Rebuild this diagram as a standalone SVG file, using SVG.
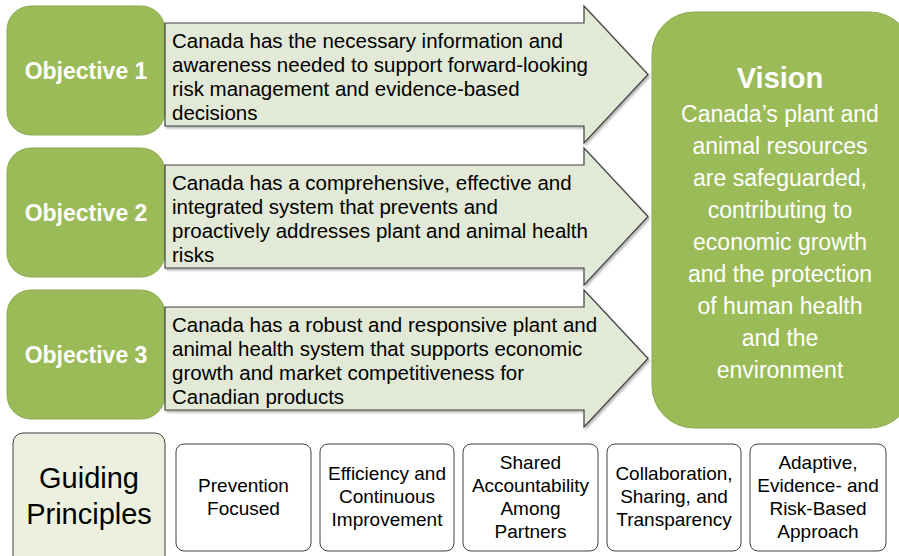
<svg xmlns="http://www.w3.org/2000/svg" width="899" height="556" viewBox="0 0 899 556">
<defs>
<filter id="sh" x="-5%" y="-5%" width="110%" height="115%">
<feDropShadow dx="1.5" dy="2" stdDeviation="1.2" flood-color="#000" flood-opacity="0.3"/>
</filter>
</defs>
<style>
.obj{fill:#9BBB59;stroke:#8DAA50;stroke-width:1}
.objt{font-family:"Liberation Sans",Arial,sans-serif;font-weight:bold;font-size:23px;fill:#fff;text-anchor:middle}
.arr{fill:#E2E9D6;stroke:#404040;stroke-width:1.2;filter:url(#sh)}
.at{font-family:"Liberation Sans",Arial,sans-serif;font-size:20.5px;fill:#000}
.vis{fill:#9BBB59;stroke:#8DAA50;stroke-width:1}
.vt{font-family:"Liberation Sans",Arial,sans-serif;font-size:23px;fill:#fff;text-anchor:middle}
.gp{fill:#EBF1DE;stroke:#404040;stroke-width:1}
.gpt{font-family:"Liberation Sans",Arial,sans-serif;font-size:29px;fill:#000;text-anchor:middle}
.pb{fill:#fff;stroke:#404040;stroke-width:1}
.pt{font-family:"Liberation Sans",Arial,sans-serif;font-size:19px;fill:#000;text-anchor:middle}
</style>
<rect width="899" height="556" fill="#fff"/>

<g id="objective1">
<rect class="obj" x="7" y="6" width="158" height="129" rx="24"/>
<text class="objt" x="86" y="79">Objective 1</text>
</g>
<g id="objective2">
<rect class="obj" x="7" y="148" width="158" height="129" rx="24"/>
<text class="objt" x="86" y="221">Objective 2</text>
</g>
<g id="objective3">
<rect class="obj" x="7" y="290" width="158" height="129" rx="24"/>
<text class="objt" x="86" y="363">Objective 3</text>
</g>

<g id="connectors">
<g id="arrow1">
<polygon class="arr" points="165,23 584,23 584,6 648,74.5 584,143 584,126 165,126"/>
<text class="at" x="172"><tspan x="172" y="48">Canada has the necessary information and</tspan><tspan x="172" y="72">awareness needed to support forward-looking</tspan><tspan x="172" y="96">risk management and evidence-based</tspan><tspan x="172" y="120">decisions</tspan></text>
</g>
<g id="arrow2">
<polygon class="arr" points="165,165 584,165 584,148 648,216.5 584,285 584,268 165,268"/>
<text class="at" x="172"><tspan x="172" y="190">Canada has a comprehensive, effective and</tspan><tspan x="172" y="214">integrated system that prevents and</tspan><tspan x="172" y="238">proactively addresses plant and animal health</tspan><tspan x="172" y="262">risks</tspan></text>
</g>
<g id="arrow3">
<polygon class="arr" points="165,307 584,307 584,290 648,358.5 584,427 584,410 165,410"/>
<text class="at" x="172"><tspan x="172" y="332">Canada has a robust and responsive plant and</tspan><tspan x="172" y="356">animal health system that supports economic</tspan><tspan x="172" y="380">growth and market competitiveness for</tspan><tspan x="172" y="404">Canadian products</tspan></text>
</g>
</g>

<g id="vision">
<rect class="vis" x="652" y="12" width="260" height="416" rx="42"/>
<text class="vt" x="780" y="88" style="font-weight:bold;font-size:29px">Vision</text>
<text class="vt" x="780" y="122">Canada’s plant and</text>
<text class="vt" x="780" y="154">animal resources</text>
<text class="vt" x="780" y="186">are safeguarded,</text>
<text class="vt" x="780" y="218">contributing to</text>
<text class="vt" x="780" y="250">economic growth</text>
<text class="vt" x="780" y="282">and the protection</text>
<text class="vt" x="780" y="314">of human health</text>
<text class="vt" x="780" y="346">and the</text>
<text class="vt" x="780" y="378">environment</text>
</g>

<g id="guiding-principles">
<rect class="gp" x="13" y="433" width="152" height="140" rx="10"/>
<text class="gpt" x="89" y="488">Guiding</text>
<text class="gpt" x="89" y="524">Principles</text>
</g>

<g id="principle1">
<rect class="pb" x="176" y="444" width="135" height="107" rx="8"/>
<text class="pt" x="243.5" y="492">Prevention</text>
<text class="pt" x="243.5" y="515">Focused</text>
</g>
<g id="principle2">
<rect class="pb" x="320" y="444" width="134" height="107" rx="8"/>
<text class="pt" x="387" y="480">Efficiency and</text>
<text class="pt" x="387" y="503">Continuous</text>
<text class="pt" x="387" y="526">Improvement</text>
</g>
<g id="principle3">
<rect class="pb" x="463" y="444" width="135" height="107" rx="8"/>
<text class="pt" x="530.5" y="469">Shared</text>
<text class="pt" x="530.5" y="492">Accountability</text>
<text class="pt" x="530.5" y="515">Among</text>
<text class="pt" x="530.5" y="538">Partners</text>
</g>
<g id="principle4">
<rect class="pb" x="607" y="444" width="134" height="107" rx="8"/>
<text class="pt" x="674" y="480">Collaboration,</text>
<text class="pt" x="674" y="503">Sharing, and</text>
<text class="pt" x="674" y="526">Transparency</text>
</g>
<g id="principle5">
<rect class="pb" x="750" y="444" width="136" height="107" rx="8"/>
<text class="pt" x="818" y="469">Adaptive,</text>
<text class="pt" x="818" y="492">Evidence- and</text>
<text class="pt" x="818" y="515">Risk-Based</text>
<text class="pt" x="818" y="538">Approach</text>
</g>
</svg>
